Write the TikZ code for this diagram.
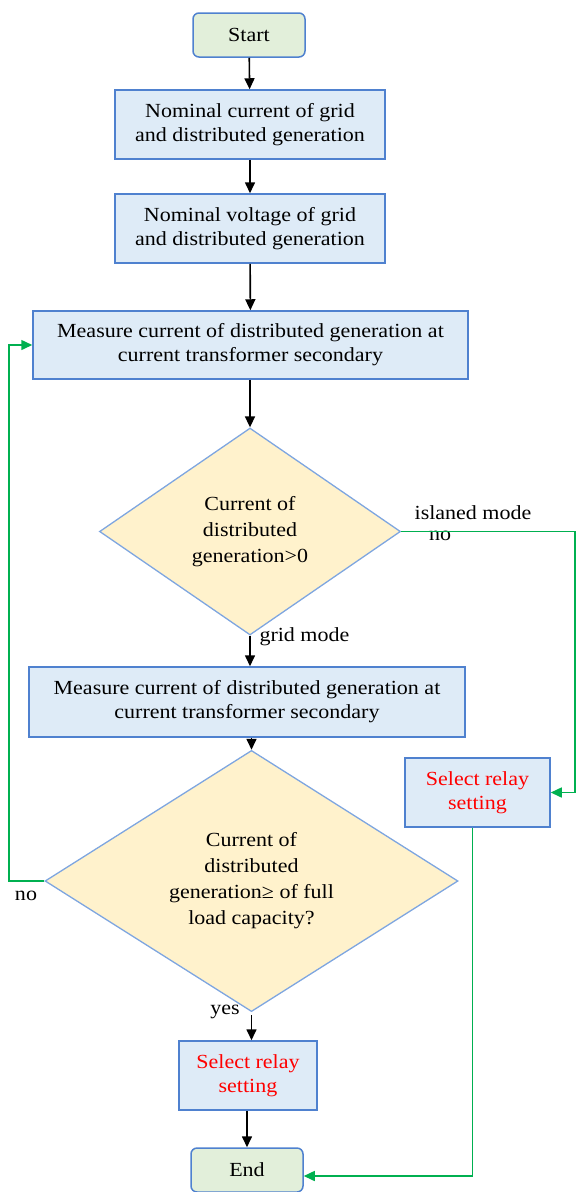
\documentclass[tikz,border=0pt]{standalone}
\usepackage{fontspec}
\setmainfont{Liberation Serif}[FakeStretch=1.1]
\usetikzlibrary{shapes.geometric,arrows.meta}

\definecolor{boxfill}{HTML}{DEEBF7}
\definecolor{boxline}{HTML}{4F81CF}
\definecolor{decfill}{HTML}{FFF2CC}
\definecolor{decline}{HTML}{7EA6E0}
\definecolor{termfill}{HTML}{E2EFDA}
\definecolor{loopgreen}{HTML}{00B050}

\tikzset{
	txt/.style={font=\fontsize{20}{24}\selectfont, align=center},
	procbox/.style={txt, draw=boxline, fill=boxfill, line width=1.5pt, inner sep=0pt},
	termbox/.style={procbox, fill=termfill, rounded corners=6pt, minimum width=112pt, minimum height=44pt},
	decbox/.style={diamond, draw=decline, fill=decfill, line width=1.3pt, inner sep=0pt, align=center, font=\fontsize{20}{26}\selectfont},
	arr/.style={-{Triangle[length=11pt,width=10pt]}, line width=1.6pt},
	garr/.style={arr, loopgreen, line width=1.5pt}
}

\begin{document}
\begin{tikzpicture}[x=1pt, y=-1pt]
	\useasboundingbox (0,0) rectangle (576,1192);

	% main column
	\node[termbox] (start) at (249,35) {Start};
	\node[procbox, minimum width=270pt, minimum height=69pt] (nomcur) at (250,124.5) {Nominal current of grid\\and distributed generation};
	\node[procbox, minimum width=270pt, minimum height=69pt] (nomvolt) at (250,228.5) {Nominal voltage of grid\\and distributed generation};
	\node[procbox, minimum width=435pt, minimum height=68pt] (meas1) at (250.5,345) {Measure current of distributed generation at\\current transformer secondary};
	\node[decbox, minimum width=301pt, minimum height=207pt] (dec1) at (250,531.5) {Current of\\distributed\\generation>0};
	\node[procbox, minimum width=436pt, minimum height=70pt] (meas2) at (247,702) {Measure current of distributed generation at\\current transformer secondary};
	\node[decbox, minimum width=413pt, minimum height=228pt] (dec2) at (251.5,881) {Current of\\distributed\\generation≥ of full\\load capacity?};
	\node[procbox, text=red, minimum width=138pt, minimum height=69pt] (relay2) at (248,1075.5) {Select relay\\setting};
	\node[termbox] (stop) at (247,1170) {End};

	% islanded branch
	\node[procbox, text=red, minimum width=145pt, minimum height=69pt] (relay1) at (477.5,792.5) {Select relay\\setting};

	% labels
	\node[txt] (isllbl) at (473,513) {islaned mode};
	\node[txt] (nolbl) at (440,536) {no};
	\node[txt, anchor=west] (gridlbl) at (256,637) {grid mode};
	\node[txt] (noloop) at (26,896) {no};
	\node[txt] (yeslbl) at (225,1012) {yes};

	\coordinate (rcol) at (575,0);
	\coordinate (lcol) at (9,0);

	\draw[arr] (start) -- (nomcur);
	\draw[arr] (nomcur) -- (nomvolt);
	\draw[arr] (nomvolt) -- (meas1);
	\draw[arr] (meas1.south -| dec1.north) -- (dec1.north);
	\draw[arr] (dec1.south) -- (dec1.south |- meas2.north);
	\draw[arr] (meas2.south -| dec2.north) -- (dec2.north);
	\draw[arr] ([yshift=-3pt]dec2.south) -- (dec2.south |- relay2.north);
	\draw[arr] (relay2.south -| stop.north) -- (stop.north);

	\draw[garr] (dec1.east) -- (dec1.east -| rcol) |- (relay1.east);
	\draw[garr] ([xshift=-5pt]relay1.south) |- ([yshift=-6pt]stop.east);
	\draw[garr] (dec2.west) -- (dec2.west -| lcol) |- (meas1.west);
\end{tikzpicture}
\end{document}
